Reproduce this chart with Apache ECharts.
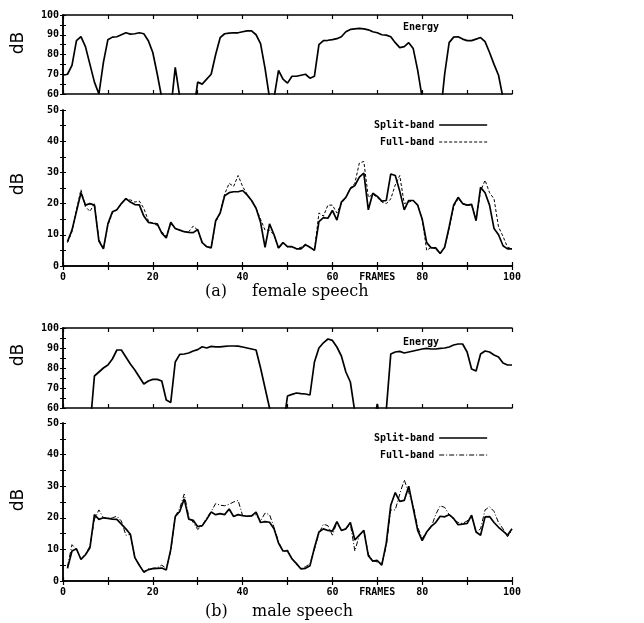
<!DOCTYPE html>
<html>
<head>
<meta charset="utf-8">
<script src="https://cdn.jsdelivr.net/npm/echarts@6/dist/echarts.min.js"></script>
<style>
html,body{margin:0;padding:0;background:#fff;}
#chart{width:644px;height:623px;}
</style>
</head>
<body>
<div id="chart"></div>
<script>
// ---- data (frame index 0..100) ----
const xTicks = [0, 20, 40, 60, 80, 100];
const xAxisName = 'FRAMES';
const energyTicks = [60, 70, 80, 90, 100];
const levelTicks = [0, 10, 20, 30, 40, 50];

const femaleEnergy = [69.5,70,74.5,87,89,84,75,66,60,76,87.5,88.8,89,90,91,90.3,90.5,91,90.5,87,81,70,58,50,52,73.5,58.5,50,50,50,66,65,67.5,70,80,88.5,90.5,90.8,91,91,91.5,92,92,90,85.5,73,58,58,72,67.5,65.5,69,69,69.5,70,68,69,85,87,87.2,87.5,88,89,91.5,92.7,93,93.2,93,92.5,91.5,91,90,89.8,89,86,83.5,84,86,83,72,58,50,50,50,48,70,86,88.8,89,87.8,87,87,87.8,88.6,86.5,81,75,69.5,58,50,50];

const femaleSplit = [null,7.8,11.5,17.5,23.5,19.5,20,19.5,8,5.5,13.5,17.4,18,20,21.6,20.5,19.7,19.6,16,14,13.7,13.5,10.5,9,14,12,11.5,11,10.8,10.7,11.7,7.5,6.2,5.8,14.5,17,22.5,23.5,23.8,23.8,24.2,22.8,21,18.5,14,6,13.5,10,5.8,7.5,6.2,6.2,5.5,5.5,6.8,6,5,14.2,15.5,15.3,17.8,14.7,20.5,22,24.8,25.8,28.5,29.8,18,23.3,22.3,20.8,21,29.5,29,24,18,21,21,19.5,15,7.5,5.8,5.8,4,6,12.5,19.5,22,20,19.5,19.8,14.5,25.2,23.5,19.5,12,10,6.5,5.5,5.5];

const femaleFull = [null,7.5,11,18,24.5,19,17.5,20,8.5,5.5,13,17,18,20,21.5,21.2,20.5,20.8,18.5,14.5,13.7,13,11,9.5,13.5,12,11.5,11,11,12.8,11.5,7.5,6,6,14,17,23,26.5,25.5,29,25.5,23,21,18.5,15,11.5,11.5,10,5.5,7.5,6,6.2,5.5,6,7,6,5,17,16,19.5,19.5,17,20,22,25,26.5,33,33.5,22,23,22,20.5,20,21.5,26,29,20,20.5,21,19.5,15,5,6,5.5,4,6,12,19,21.5,20,19.5,19.5,15,24,27.5,23.5,21.5,12.5,9.5,6,5.5];

const maleEnergy = [50,50,50,50,50,50,50,76,78,80,81.5,84.5,89,89,85.5,82,79,75.5,72,73.5,74.3,74.3,73.5,64,62.8,83,86.8,87,87.5,88.5,89.2,90.6,90,90.8,90.6,90.6,90.8,91,91,90.9,90.5,90,89.5,89,80,70,60,50,50,50,66,66.8,67.5,67.2,67,66.5,83,90,92.6,94.5,93.8,90.5,86,78,73,58,50,50,50,50,62,50,59,87,88,88.3,87.5,88,88.5,89,89.5,89.8,89.5,89.5,89.8,90,90.5,91.5,92,92,88,79.5,78.5,87,88.5,88,86.5,85.5,82.5,81.5,81.5];

const maleSplit = [null,4,9.5,10.2,6.8,8.3,10.5,21,19.5,20,19.8,19.6,19.5,18,16.5,14.8,7.4,5,2.8,3.6,3.9,4,4.1,3.5,10,20.4,22,26,19.6,19.2,17.2,17.5,19.5,21.8,21,21.3,21,22.8,20.4,21,20.7,20.5,20.6,21.8,18.5,18.8,18.6,16.5,12,9.5,9.5,7,5.5,3.8,4,4.8,10.5,15.5,16.5,16,15.8,18.8,16,16.5,18.5,13,14.5,16,8,6.3,6.5,5,12,24,28,25.2,25.5,30,23,16,12.8,15.5,17.3,18.5,20.5,20.3,21,19.8,17.8,18,18.2,20.8,15.5,14.5,20.3,20.4,18.5,17,15.8,14.5,16.5];

const maleFull = [null,4.5,11.5,10,7,8.5,11,19.5,22.5,20,19.8,20,20.5,19,14.5,14.8,7.5,5,3,3.8,4,4.2,5,4,9.5,20.5,23,27.5,20.5,18.5,16.3,17.5,20,22,24.5,24,23.8,24.3,25,25.5,20.7,20.5,20.6,21,19,21.5,21,17,12.5,9.3,9.8,7,5.2,4,4.5,5.5,10,15,18,17.5,14.5,18.5,16,16.5,18,9.5,14.5,16,8.5,6.5,6,5.5,11,22.5,22.5,27.5,32,28,24,17,13.5,15.5,17,21,23.8,23.3,21,19.5,18.5,18.2,19,20.5,15.5,16.5,22.5,23.5,22,18.5,16.5,14,16];

// ---- build chart ----
const toPairs = arr => arr.map((v, i) => [i, v]);
const monoFont = '"DejaVu Sans Mono", monospace';
const grids = [
  {left: 63, width: 449, top: 15, height: 79},
  {left: 63, width: 449, top: 110, height: 156},
  {left: 63, width: 449, top: 328, height: 80},
  {left: 63, width: 449, top: 423, height: 158}
];
const isEnergy = [true, false, true, false];
const axisLine = {show: true, lineStyle: {color: '#000', width: 1.5}};
const xAxes = [], yAxes = [];
grids.forEach((g, gi) => {
  const showLabels = !isEnergy[gi];
  xAxes.push({
    type: 'value', gridIndex: gi, min: 0, max: 100, interval: 10, position: 'bottom',
    axisLine, splitLine: {show: false},
    axisTick: {show: true, inside: true, length: 4, lineStyle: {color: '#000', width: 1.2}},
    axisLabel: {
      show: showLabels, margin: 6, color: '#000', fontFamily: monoFont, fontWeight: 'bold', fontSize: 10,
      formatter: v => xTicks.includes(v) ? String(v) : (v === 70 ? xAxisName : '')
    }
  });
  xAxes.push({
    type: 'value', gridIndex: gi, min: 0, max: 100, interval: 10, position: 'top',
    axisLine, splitLine: {show: false}, axisLabel: {show: false},
    axisTick: {show: true, inside: true, length: 4, lineStyle: {color: '#000', width: 1.2}}
  });
  const ticks = isEnergy[gi] ? energyTicks : levelTicks;
  const ymin = ticks[0], ymax = ticks[ticks.length - 1];
  yAxes.push({
    type: 'value', gridIndex: gi, min: ymin, max: ymax, interval: 5, position: 'left',
    axisLine, splitLine: {show: false},
    axisTick: {show: true, inside: true, length: 3, lineStyle: {color: '#000', width: 1}},
    axisLabel: {
      show: true, margin: 4, color: '#000', fontFamily: monoFont, fontWeight: 'bold', fontSize: 10,
      formatter: v => ticks.includes(v) ? String(v) : ''
    }
  });
  yAxes.push({
    type: 'value', gridIndex: gi, min: ymin, max: ymax, interval: 5, position: 'right',
    axisLine, splitLine: {show: false}, axisLabel: {show: false},
    axisTick: {show: true, inside: true, length: 3, lineStyle: {color: '#000', width: 1}}
  });
});

const baseLine = (name, data, gi, lineStyle, z) => ({
  name, type: 'line', data: toPairs(data), xAxisIndex: gi * 2, yAxisIndex: gi * 2,
  showSymbol: false, symbol: 'none', clip: true, connectNulls: false,
  lineStyle: Object.assign({color: '#000'}, lineStyle), itemStyle: {color: '#000'}, z, silent: true, animation: false
});

const solid = {width: 1.7, type: 'solid'};
const femDash = {width: 1, type: [3, 2]};
const maleDash = {width: 1, type: [5, 2, 1, 2]};

const series = [
  baseLine('Energy', femaleEnergy, 0, solid, 3),
  baseLine('Full-band', femaleFull, 1, femDash, 2),
  baseLine('Split-band', femaleSplit, 1, solid, 3),
  baseLine('Energy', maleEnergy, 2, solid, 3),
  baseLine('Full-band', maleFull, 3, maleDash, 2),
  baseLine('Split-band', maleSplit, 3, solid, 3)
];

const legendText = {color: '#000', fontFamily: monoFont, fontWeight: 'bold', fontSize: 10};
const mkLegend = (top, dash) => ({
  orient: 'vertical', right: 156, top: top, align: 'right', padding: 0,
  itemWidth: 48, itemHeight: 10, itemGap: 7,
  selectedMode: false, textStyle: legendText,
  itemStyle: {opacity: 0},
  data: [
    {name: 'Split-band', lineStyle: {color: '#000', width: 1.7, type: 'solid'}},
    {name: 'Full-band', lineStyle: {color: '#000', width: 1, type: dash}}
  ]
});

const serifFont = '16px "DejaVu Serif"';
const chart = echarts.init(document.getElementById('chart'), null, {renderer: 'canvas'});
chart.setOption({
  backgroundColor: '#fff',
  animation: false,
  grid: grids,
  xAxis: xAxes,
  yAxis: yAxes,
  legend: [mkLegend(120, femDash.type), mkLegend(433, maleDash.type)],
  series: series,
  graphic: [
    {type: 'text', x: 19, y: 43, rotation: Math.PI / 2, style: {text: 'dB', font: '17px "DejaVu Sans"', textAlign: 'center', textVerticalAlign: 'middle', fill: '#000'}},
    {type: 'text', x: 19, y: 184, rotation: Math.PI / 2, style: {text: 'dB', font: '17px "DejaVu Sans"', textAlign: 'center', textVerticalAlign: 'middle', fill: '#000'}},
    {type: 'text', x: 19, y: 355, rotation: Math.PI / 2, style: {text: 'dB', font: '17px "DejaVu Sans"', textAlign: 'center', textVerticalAlign: 'middle', fill: '#000'}},
    {type: 'text', x: 19, y: 500, rotation: Math.PI / 2, style: {text: 'dB', font: '17px "DejaVu Sans"', textAlign: 'center', textVerticalAlign: 'middle', fill: '#000'}},
    {type: 'text', x: 403, y: 27, style: {text: 'Energy', font: 'bold 10px "DejaVu Sans Mono"', textAlign: 'left', textVerticalAlign: 'middle', fill: '#000'}},
    {type: 'text', x: 403, y: 342, style: {text: 'Energy', font: 'bold 10px "DejaVu Sans Mono"', textAlign: 'left', textVerticalAlign: 'middle', fill: '#000'}},
    {type: 'text', x: 205, y: 292, style: {text: '(a)', font: serifFont, textAlign: 'left', textVerticalAlign: 'middle', fill: '#000'}},
    {type: 'text', x: 252, y: 292, style: {text: 'female speech', font: serifFont, textAlign: 'left', textVerticalAlign: 'middle', fill: '#000'}},
    {type: 'text', x: 205, y: 612, style: {text: '(b)', font: serifFont, textAlign: 'left', textVerticalAlign: 'middle', fill: '#000'}},
    {type: 'text', x: 252, y: 612, style: {text: 'male speech', font: serifFont, textAlign: 'left', textVerticalAlign: 'middle', fill: '#000'}}
  ]
});
</script>
</body>
</html>
